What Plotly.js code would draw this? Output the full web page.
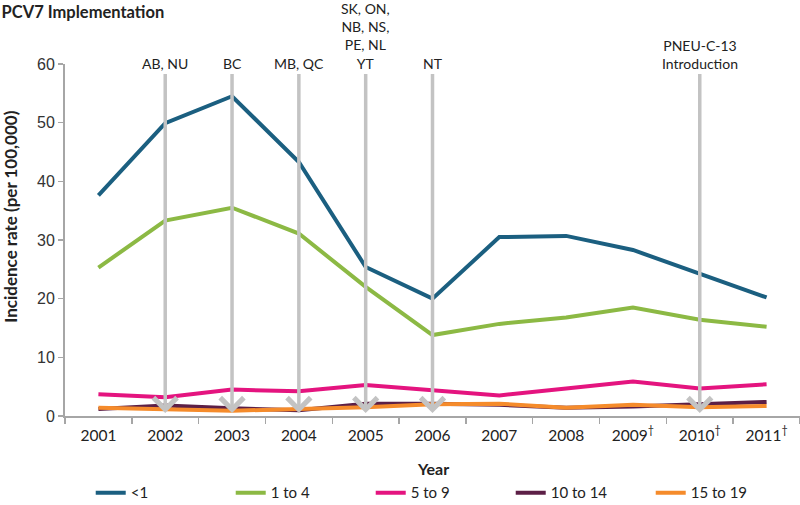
<!DOCTYPE html>
<html>
<head>
<meta charset="utf-8">
<script src="https://cdn.plot.ly/plotly-3.0.1.min.js"></script>
<style>html,body{margin:0;padding:0;background:#fff}#chart{width:800px;height:505px}</style>
</head>
<body>
<div id="chart"></div>
<script>
// Data
const years = ['2001','2002','2003','2004','2005','2006','2007','2008','2009','2010','2011'];
const yearLabels = ['2001','2002','2003','2004','2005','2006','2007','2008','2009<sup>†</sup>','2010<sup>†</sup>','2011<sup>†</sup>'];
const seriesNames = ['<1','1 to 4','5 to 9','10 to 14','15 to 19'];
const under1   = [37.6, 49.9, 54.5, 43.3, 25.4, 20.0, 30.5, 30.7, 28.3, 24.3, 20.2];
const age1to4  = [25.3, 33.3, 35.5, 31.1, 22.0, 13.8, 15.7, 16.8, 18.5, 16.4, 15.2];
const age5to9  = [3.7, 3.2, 4.5, 4.2, 5.3, 4.4, 3.5, 4.7, 5.9, 4.7, 5.4];
const age10to14 = [1.2, 1.8, 1.3, 1.0, 2.1, 2.1, 1.9, 1.4, 1.6, 2.0, 2.4];
const age15to19 = [1.4, 1.2, 0.9, 1.2, 1.5, 2.0, 2.1, 1.4, 1.9, 1.5, 1.7];
const introYears = ['2002','2003','2004','2005','2006','2010'];
const introLabels = ['AB, NU','BC','MB, QC','SK, ON,<br>NB, NS,<br>PE, NL<br>YT','NT','PNEU-C-13<br>Introduction'];

const colors = ['#1b5f80','#8cb944','#e4147f','#5c1f46','#f58b2b'];
const values = [under1, age1to4, age5to9, age10to14, age15to19];
const FONT = 'Lato, "Open Sans", sans-serif';

const traces = values.map((v, i) => ({
  type: 'scatter', mode: 'lines', x: years, y: v, name: seriesNames[i],
  line: {color: colors[i], width: 4}
}));

const annotations = introYears.map((yr, i) => ({
  x: years.indexOf(yr), y: 0.5, xref: 'x', yref: 'y',
  ax: 0, ay: -339, axref: 'pixel', ayref: 'pixel',
  text: introLabels[i], showarrow: true,
  arrowhead: 4, arrowsize: 1.3, arrowwidth: 3.5, arrowcolor: '#c3c3c3',
  xanchor: 'center', yanchor: 'bottom',
  font: {family: FONT, size: 14, color: '#222'}
}));
annotations.push({
  text: '<b>Incidence rate (per 100,000)</b>', textangle: -90, showarrow: false,
  xref: 'paper', yref: 'paper', x: -0.074, y: 0.565, xanchor: 'center', yanchor: 'middle',
  font: {family: FONT, size: 17, color: '#222'}
});
annotations.push({
  text: '<b>Year</b>', showarrow: false,
  xref: 'paper', yref: 'paper', x: 0.5, y: -0.148, xanchor: 'center', yanchor: 'middle',
  font: {family: FONT, size: 16, color: '#222'}
});

const layout = {
  width: 800, height: 505,
  margin: {l: 65, r: 0, t: 64, b: 89},
  paper_bgcolor: '#fff', plot_bgcolor: '#fff',
  font: {family: FONT, size: 14, color: '#222'},
  title: {text: '<b>PCV7 Implementation</b>', xref: 'container', yref: 'container',
          x: 0.002, xanchor: 'left', y: 0.988, yanchor: 'top',
          font: {family: FONT, size: 16.5, color: '#222'}},
  xaxis: {
    type: 'category', range: [-0.5, 10.5],
    tickvals: years, ticktext: yearLabels, tickson: 'boundaries',
    ticks: 'outside', ticklen: 6, tickcolor: '#a6a6a6', tickwidth: 1.5,
    ticklabelstandoff: 4,
    showline: true, linecolor: '#a6a6a6', linewidth: 2,
    showgrid: false, zeroline: false,
    tickfont: {family: FONT, size: 15.5, color: '#222'}
  },
  yaxis: {
    range: [0, 60], dtick: 10,
    ticks: 'outside', ticklen: 5, tickcolor: '#a6a6a6', tickwidth: 1.5,
    showline: true, linecolor: '#a6a6a6', linewidth: 2,
    showgrid: false, zeroline: false,
    tickfont: {family: '"Liberation Sans", Arial, sans-serif', size: 16, color: '#333'}
  },
  showlegend: true,
  legend: {orientation: 'h', x: 0.035, xanchor: 'left', yref: 'container', y: 0.024, yanchor: 'middle',
           entrywidth: 95, entrywidthmode: 'pixels', itemwidth: 30,
           font: {family: FONT, size: 15, color: '#222'}},
  annotations: annotations
};

Plotly.newPlot('chart', traces, layout, {displayModeBar: false, staticPlot: true});
</script>
</body>
</html>
